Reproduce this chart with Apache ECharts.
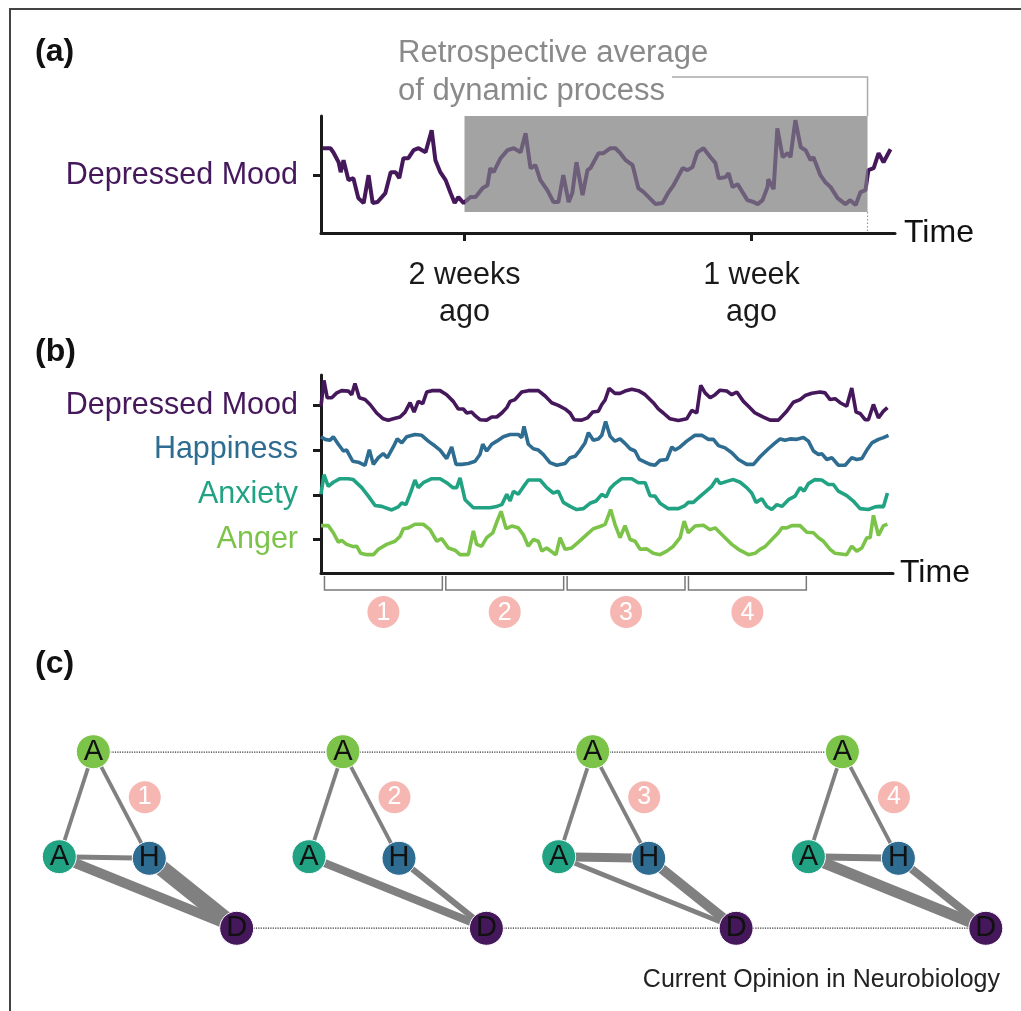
<!DOCTYPE html>
<html><head><meta charset="utf-8">
<script src="https://cdn.jsdelivr.net/npm/echarts@6/dist/echarts.min.js"></script>
<style>html,body{margin:0;padding:0;background:#fff}#c{width:1021px;height:1011px}</style>
</head><body><div id="c"></div>
<script>
// ---------- Panel (a): depressed mood over time (days relative to now) ----------
const moodA = [[-17.46,7.39],[-17.27,7.39],[-17.20,7.04],[-17.07,6.17],[-17.02,5.30],[-16.95,6.35],[-16.83,4.61],[-16.71,4.78],[-16.59,3.04],[-16.46,2.61],[-16.34,5.04],[-16.24,2.61],[-16.12,2.70],[-15.93,3.48],[-15.80,5.30],[-15.68,5.30],[-15.59,4.78],[-15.49,6.52],[-15.37,6.52],[-15.24,7.22],[-15.12,7.39],[-14.95,7.04],[-14.80,8.96],[-14.71,6.35],[-14.59,5.30],[-14.46,4.61],[-14.34,3.48],[-14.24,2.61],[-14.15,3.13],[-14.02,2.61],[-13.85,3.13],[-13.73,3.13],[-13.56,3.91],[-13.44,4.17],[-13.37,5.65],[-13.29,5.30],[-13.12,6.52],[-12.95,7.22],[-12.80,7.39],[-12.63,7.04],[-12.51,8.70],[-12.39,5.65],[-12.27,5.91],[-12.15,4.61],[-11.98,3.74],[-11.83,2.70],[-11.71,2.70],[-11.59,5.04],[-11.46,2.70],[-11.37,3.48],[-11.27,6.17],[-11.12,3.30],[-11.00,5.48],[-10.93,5.65],[-10.73,6.96],[-10.61,6.96],[-10.44,7.39],[-10.32,7.39],[-10.20,6.96],[-10.07,6.35],[-9.90,5.91],[-9.76,3.91],[-9.63,3.57],[-9.34,2.52],[-9.17,2.61],[-9.02,3.57],[-8.90,4.17],[-8.68,5.65],[-8.56,5.48],[-8.44,5.74],[-8.32,7.04],[-8.17,7.39],[-8.00,6.61],[-7.88,6.09],[-7.80,4.78],[-7.63,4.87],[-7.56,5.22],[-7.46,4.00],[-7.34,4.26],[-7.10,2.87],[-6.95,2.70],[-6.85,2.52],[-6.73,2.87],[-6.61,4.00],[-6.59,4.70],[-6.46,3.83],[-6.37,9.13],[-6.24,6.61],[-6.12,6.96],[-6.05,6.61],[-5.93,9.83],[-5.80,7.48],[-5.68,7.22],[-5.56,6.35],[-5.49,6.61],[-5.32,5.04],[-5.20,4.43],[-5.07,4.00],[-4.90,3.04],[-4.71,2.52],[-4.59,2.87],[-4.46,2.43],[-4.34,3.57],[-4.22,3.74],[-4.15,5.48],[-4.02,5.65],[-3.90,6.96],[-3.78,6.17],[-3.61,7.30]];
const retroWindow = [-14, -4.17];     // days
const retroLevels = [1.83, 10.2];     // shaded band extent
const timeTicksA = [-14, -7];
const timeLabelsA = ['2 weeks\nago', '1 week\nago'];
const moodTickA = 5;

// ---------- Panel (b): four symptoms over time (days) ----------
const seriesNamesB = ['Depressed Mood', 'Happiness', 'Anxiety', 'Anger'];
const levelTicksB = [4, 3, 2, 1];
const depressedB = [[0,3.98],[0.17,4.56],[0.36,4.17],[0.62,4.17],[0.91,4.28],[1.19,4.33],[1.58,4.32],[1.77,4.24],[1.96,4.49],[2.21,4.17],[2.54,4.13],[2.83,4.02],[3.21,3.83],[3.59,3.70],[3.88,3.67],[4.17,3.70],[4.56,3.74],[4.85,3.85],[5.14,4.06],[5.37,3.85],[5.61,4.09],[5.87,4.04],[6.10,4.30],[6.39,4.33],[6.87,4.33],[7.25,4.24],[7.63,4.09],[7.92,3.92],[8.21,3.92],[8.41,3.83],[8.70,3.85],[8.89,3.77],[9.17,3.68],[9.56,3.67],[9.85,3.74],[10.14,3.74],[10.43,3.83],[10.72,3.95],[10.91,4.09],[11.19,4.13],[11.58,4.30],[11.96,4.33],[12.54,4.33],[12.93,4.21],[13.31,4.06],[13.69,4.00],[14.08,3.92],[14.37,3.83],[14.60,3.68],[15.04,3.67],[15.37,3.72],[15.68,3.85],[16.00,3.87],[16.20,4.02],[16.39,4.12],[16.62,4.38],[16.96,4.27],[17.25,4.27],[17.54,4.32],[17.93,4.36],[18.31,4.33],[18.70,4.24],[19.17,4.06],[19.46,3.92],[19.75,3.83],[20.14,3.70],[20.62,3.66],[21.10,3.70],[21.39,3.89],[21.68,3.83],[21.91,4.45],[22.16,4.28],[22.45,4.17],[22.74,4.24],[23.02,4.34],[23.41,4.32],[23.70,4.24],[23.99,4.30],[24.37,4.09],[24.66,3.98],[25.04,3.83],[25.52,3.74],[25.91,3.67],[26.39,3.67],[26.87,3.87],[27.25,4.07],[27.64,4.13],[27.93,4.22],[28.32,4.27],[28.79,4.30],[29.08,4.28],[29.37,4.13],[29.66,4.15],[29.95,4.06],[30.33,3.98],[30.62,4.39],[30.87,3.85],[31.10,3.82],[31.39,3.68],[31.58,3.68],[31.87,4.02],[32.16,3.72],[32.45,3.87],[32.68,3.95]];
const happinessB = [[0,3.30],[0.23,3.24],[0.52,3.22],[0.71,3.30],[1.00,3.13],[1.29,2.98],[1.48,3.00],[1.83,2.75],[2.15,2.73],[2.54,2.66],[2.79,3.01],[3.02,2.68],[3.31,2.83],[3.59,2.92],[3.83,2.83],[4.17,3.07],[4.40,3.25],[4.66,3.16],[4.95,3.30],[5.42,3.35],[5.81,3.33],[6.19,3.20],[6.58,3.09],[6.87,3.00],[7.25,2.81],[7.54,3.07],[7.79,2.68],[8.12,2.68],[8.50,2.70],[8.89,2.75],[9.17,2.90],[9.33,3.13],[9.56,2.98],[9.85,3.13],[10.14,3.20],[10.52,3.30],[10.91,3.35],[11.38,3.35],[11.58,3.28],[11.71,3.53],[11.96,3.13],[12.25,3.03],[12.54,3.00],[12.83,2.90],[13.21,2.72],[13.60,2.66],[14.08,2.70],[14.37,2.83],[14.66,2.86],[14.95,3.00],[15.23,3.16],[15.43,3.39],[15.71,3.22],[16.00,3.25],[16.20,3.33],[16.42,3.64],[16.68,3.31],[16.96,3.20],[17.25,3.25],[17.54,3.15],[17.83,3.03],[18.12,2.98],[18.37,2.79],[18.70,2.73],[18.98,2.68],[19.27,2.66],[19.56,2.77],[19.95,2.79],[20.24,3.07],[20.43,3.00],[20.72,3.07],[21.10,3.20],[21.58,3.33],[21.97,3.33],[22.35,3.24],[22.64,3.24],[22.93,3.10],[23.31,3.05],[23.70,2.94],[24.08,2.79],[24.56,2.68],[24.95,2.68],[25.33,2.85],[25.81,3.03],[26.20,3.16],[26.49,3.25],[26.77,3.22],[27.06,3.25],[27.45,3.24],[27.83,3.28],[28.12,3.20],[28.41,2.98],[28.70,2.90],[28.89,2.92],[29.18,2.79],[29.47,2.83],[29.85,2.66],[30.24,2.66],[30.62,2.83],[30.91,2.79],[31.20,2.81],[31.49,3.00],[31.78,3.16],[32.16,3.24],[32.45,3.28],[32.74,3.33]];
const anxietyB = [[0,2.01],[0.17,2.45],[0.42,2.19],[0.71,2.28],[1.10,2.36],[1.58,2.36],[1.86,2.34],[2.35,2.16],[2.73,1.97],[3.12,1.76],[3.50,1.74],[4.08,1.66],[4.46,1.73],[4.66,1.82],[4.90,1.78],[5.18,2.06],[5.42,2.33],[5.61,2.16],[5.90,2.27],[6.39,2.36],[6.87,2.36],[7.25,2.27],[7.60,2.16],[7.83,2.16],[8.02,2.38],[8.31,1.89],[8.79,1.71],[9.27,1.71],[9.75,1.71],[10.14,1.74],[10.43,1.78],[10.72,2.01],[10.91,1.86],[11.10,2.08],[11.38,2.01],[11.64,2.16],[11.96,2.33],[12.64,2.33],[13.02,2.16],[13.40,2.04],[13.69,2.08],[13.98,1.83],[14.37,1.74],[14.75,1.67],[15.14,1.69],[15.52,1.81],[15.87,1.86],[16.20,2.01],[16.45,1.95],[16.68,2.14],[16.96,2.25],[17.35,2.36],[17.93,2.36],[18.31,2.27],[18.70,2.27],[18.98,1.98],[19.27,1.97],[19.56,1.81],[20.04,1.69],[20.62,1.69],[21.00,1.76],[21.19,1.83],[21.48,1.83],[21.77,1.93],[22.16,2.06],[22.54,2.19],[22.83,2.36],[23.02,2.25],[23.41,2.30],[23.79,2.34],[24.18,2.28],[24.56,2.16],[24.85,2.04],[25.10,1.83],[25.43,1.91],[25.72,1.74],[26.01,1.67],[26.30,1.78],[26.59,1.74],[26.97,1.89],[27.35,1.97],[27.64,2.16],[27.87,2.08],[28.12,2.25],[28.50,2.34],[28.89,2.33],[29.27,2.23],[29.56,2.23],[29.85,2.08],[30.33,1.98],[30.71,1.86],[31.10,1.69],[31.58,1.67],[31.97,1.73],[32.26,1.74],[32.45,1.73],[32.68,2.04]];
const angerB = [[0,1.31],[0.42,1.31],[0.71,1.15],[1.00,0.94],[1.19,0.98],[1.48,0.89],[1.86,0.84],[2.06,0.85],[2.29,0.69],[2.64,0.66],[3.02,0.66],[3.31,0.78],[3.79,0.89],[4.27,0.96],[4.56,1.07],[4.75,1.24],[5.04,1.26],[5.42,1.34],[5.90,1.34],[6.29,1.22],[6.68,0.96],[6.96,1.02],[7.35,0.81],[7.73,0.76],[8.02,0.66],[8.50,0.66],[8.79,1.19],[8.98,0.89],[9.27,0.85],[9.56,1.04],[9.91,1.15],[10.14,1.39],[10.39,1.63],[10.68,1.24],[11.00,1.30],[11.38,1.26],[11.67,1.11],[11.96,0.85],[12.25,1.00],[12.54,0.96],[12.74,0.74],[13.02,0.81],[13.40,0.70],[13.56,0.66],[13.79,1.04],[14.08,0.78],[14.47,0.81],[14.85,0.94],[15.33,1.11],[15.71,1.24],[16.10,1.29],[16.39,1.34],[16.71,1.67],[16.96,1.34],[17.25,1.04],[17.54,1.31],[17.83,1.00],[18.12,0.96],[18.41,0.78],[18.79,0.79],[19.17,0.69],[19.56,0.66],[19.95,0.74],[20.33,0.85],[20.72,1.04],[20.95,1.41],[21.19,1.15],[21.58,1.30],[22.06,1.32],[22.45,1.22],[22.74,1.26],[23.02,1.15],[23.31,1.04],[23.70,0.89],[24.08,0.78],[24.66,0.66],[25.04,0.69],[25.33,0.78],[25.62,0.84],[26.01,1.00],[26.39,1.15],[26.59,1.26],[26.87,1.26],[27.16,1.31],[27.64,1.31],[28.03,1.16],[28.41,1.15],[28.70,1.04],[28.99,0.96],[29.37,0.78],[29.66,0.69],[30.33,0.66],[30.62,0.85],[30.91,0.74],[31.20,0.81],[31.49,1.04],[31.68,1.04],[31.87,1.54],[32.16,1.09],[32.45,1.31],[32.68,1.34]];
const windowStarts = [0.2, 7.2, 14.2, 21.2];
const windowEnds = [7.0, 14.0, 21.0, 28.0];
const windowLabels = ['1', '2', '3', '4'];

// ---------- Panel (c): network edge strengths per window ----------
const angerAnxiety       = [0.19, 0.19, 0.19, 0.19];
const angerHappiness     = [0.19, 0.19, 0.19, 0.19];
const anxietyHappiness   = [0.25, 0.00, 0.45, 0.35];
const anxietyDepressed   = [0.50, 0.40, 0.25, 0.55];
const happinessDepressed = [0.80, 0.30, 0.50, 0.40];
const nodeLetters = {ang: 'A', anx: 'A', hap: 'H', dep: 'D'};

// ---------- styles / layout ----------
const FONT = '"Liberation Sans", Arial, sans-serif';
const COL = {dep: '#45175b', hap: '#2e6c91', anx: '#21a383', ang: '#7cc34a'};
const seriesColorsB = [COL.dep, COL.hap, COL.anx, COL.ang];
const MUTED = '#6d5e79';
const AXIS = '#1a1a1a';
const yMinB = 0.25, yMaxB = 4.68;
// network node template (relative layout)
const tpl = {ang: [34, 0], anx: [0, 105], hap: [90, 106.6], dep: [177.4, 176.6], badge: [85.5, 45.6]};
const netSpacing = 249.7;

const nodes = [], links = [];
for (let i = 0; i < 4; i++) {
  const ox = i * netSpacing;
  ['ang', 'anx', 'hap', 'dep'].forEach(k => nodes.push({
    name: k + i, x: ox + tpl[k][0], y: tpl[k][1], symbolSize: 34,
    itemStyle: {color: COL[k], borderColor: '#fff', borderWidth: 1},
    label: {formatter: nodeLetters[k]}
  }));
  nodes.push({name: 'badge' + i, x: ox + tpl.badge[0], y: tpl.badge[1], symbolSize: 32,
    itemStyle: {color: '#f6b7b2', borderWidth: 0},
    label: {formatter: windowLabels[i], color: '#fff', fontSize: 25}});
}
for (let i = 0; i < 3; i++) {
  links.push({source: 'ang' + i, target: 'ang' + (i + 1), lineStyle: {type: 'dotted', width: 1.2, color: '#333'}});
  links.push({source: 'dep' + i, target: 'dep' + (i + 1), lineStyle: {type: 'dotted', width: 1.2, color: '#333'}});
}
const edgeSets = [['ang','anx',angerAnxiety],['ang','hap',angerHappiness],['anx','hap',anxietyHappiness],['anx','dep',anxietyDepressed],['hap','dep',happinessDepressed]];
for (let i = 0; i < 4; i++) {
  edgeSets.forEach(([a, b, w]) => {
    if (w[i] > 0) links.push({source: a + i, target: b + i, lineStyle: {width: w[i] * 20, color: '#808080'}});
  });
}

const chart = echarts.init(document.getElementById('c'), null, {renderer: 'canvas'});
const axisLine = {show: true, lineStyle: {color: AXIS, width: 3}};

chart.setOption({
  animation: false,
  backgroundColor: '#fff',
  textStyle: {fontFamily: FONT},
  grid: [
    {left: 321, top: 116, width: 574, height: 117, outerBoundsMode: 'none', containLabel: false},
    {left: 321, top: 375, width: 572, height: 198, outerBoundsMode: 'none', containLabel: false}
  ],
  xAxis: [
    {gridIndex: 0, type: 'value', min: -17.5, max: -3.5, splitLine: {show: false}, axisLine,
     name: 'Time', nameLocation: 'end', nameGap: 9, nameTextStyle: {fontSize: 32, color: '#111', fontFamily: FONT},
     axisTick: {show: true, customValues: timeTicksA, length: 8, lineStyle: {color: AXIS, width: 3}},
     axisLabel: {show: true, customValues: timeTicksA, margin: 24, fontSize: 30.5, lineHeight: 37, color: '#1a1a1a', fontFamily: FONT,
       formatter: v => timeLabelsA[timeTicksA.indexOf(Math.round(v))] || ''}},
    {gridIndex: 1, type: 'value', min: 0, max: 33, splitLine: {show: false}, axisLine,
     name: 'Time', nameLocation: 'end', nameGap: 7, nameTextStyle: {fontSize: 32, color: '#111', fontFamily: FONT},
     axisTick: {show: false}, axisLabel: {show: false}}
  ],
  yAxis: [
    {gridIndex: 0, type: 'value', min: 0, max: 10.2, splitLine: {show: false}, axisLine,
     axisTick: {show: true, customValues: [moodTickA], length: 8, lineStyle: {color: AXIS, width: 3}},
     axisLabel: {show: true, customValues: [moodTickA], margin: 23, fontSize: 30.5, color: COL.dep, fontFamily: FONT,
       formatter: () => 'Depressed Mood'}},
    {gridIndex: 1, type: 'value', min: yMinB, max: yMaxB, splitLine: {show: false}, axisLine,
     axisTick: {show: true, customValues: levelTicksB, length: 8, lineStyle: {color: AXIS, width: 3}},
     axisLabel: {show: true, customValues: levelTicksB, margin: 23, fontSize: 30.5, fontFamily: FONT,
       formatter: v => seriesNamesB[levelTicksB.indexOf(Math.round(+v))] || '',
       color: v => seriesColorsB[levelTicksB.indexOf(Math.round(+v))] || '#000'}}
  ],
  visualMap: [{
    type: 'piecewise', show: false, dimension: 0, seriesIndex: 0,
    pieces: [{lt: retroWindow[0], color: COL.dep}, {gte: retroWindow[0], lte: retroWindow[1], color: MUTED}, {gt: retroWindow[1], color: COL.dep}]
  }],
  series: [
    {type: 'line', xAxisIndex: 0, yAxisIndex: 0, data: moodA, showSymbol: false, symbol: 'none',
     lineStyle: {width: 4}, z: 3,
     markArea: {silent: true, itemStyle: {color: '#a3a3a3', opacity: 1},
       data: [[{coord: [retroWindow[0], retroLevels[0]]}, {coord: [retroWindow[1], retroLevels[1]]}]]}},
    ...[depressedB, happinessB, anxietyB, angerB].map((d, i) => ({
      type: 'line', xAxisIndex: 1, yAxisIndex: 1, name: seriesNamesB[i], data: d, showSymbol: false, symbol: 'none',
      lineStyle: {width: 3.6, color: seriesColorsB[i]}, itemStyle: {color: seriesColorsB[i]}
    })),
    {type: 'custom', xAxisIndex: 1, yAxisIndex: 1, clip: false, silent: true,
     data: windowStarts.map((s, i) => [s, windowEnds[i], yMinB]),
     encode: {x: [0, 1], y: 2},
     renderItem: (params, api) => {
       const p0 = api.coord([api.value(0), yMinB]);
       const p1 = api.coord([api.value(1), yMinB]);
       const yb = p0[1] + 17, yt = p0[1] + 3, cy = p0[1] + 39, cx = (p0[0] + p1[0]) / 2;
       return {type: 'group', children: [
         {type: 'polyline', shape: {points: [[p0[0], yt], [p0[0], yb], [p1[0], yb], [p1[0], yt]]}, style: {stroke: '#7a7a7a', lineWidth: 1.5, fill: null}},
         {type: 'circle', shape: {cx, cy, r: 16}, style: {fill: '#f6b7b2'}},
         {type: 'text', x: cx, y: cy + 1, style: {text: windowLabels[params.dataIndex], fill: '#fff', font: '25px ' + FONT, align: 'center', verticalAlign: 'middle'}}
       ]};
     }},
    {type: 'graph', layout: 'none', roam: false, silent: true,
     left: 59.3, top: 751.7, width: 3 * netSpacing + tpl.dep[0], height: tpl.dep[1],
     data: nodes, links: links, edgeSymbol: ['none', 'none'],
     label: {show: true, position: 'inside', fontSize: 29, color: '#111', fontFamily: FONT},
     lineStyle: {color: '#808080', opacity: 1, curveness: 0},
     emphasis: {disabled: true}}
  ],
  graphic: [
    {id: 'frame', type: 'polyline', shape: {points: [[10, 1011], [10, 9], [1021, 9]]}, style: {stroke: '#444', lineWidth: 2, fill: null}},
    {id: 'la', type: 'text', x: 35, y: 52, style: {text: '(a)', font: 'bold 32px ' + FONT, fill: '#111', verticalAlign: 'middle'}},
    {id: 'lb', type: 'text', x: 35, y: 352, style: {text: '(b)', font: 'bold 32px ' + FONT, fill: '#111', verticalAlign: 'middle'}},
    {id: 'lc', type: 'text', x: 35, y: 664, style: {text: '(c)', font: 'bold 32px ' + FONT, fill: '#111', verticalAlign: 'middle'}},
    {id: 'r1', type: 'text', x: 398, y: 53, style: {text: 'Retrospective average', font: '31px ' + FONT, fill: '#8a8a8a', verticalAlign: 'middle'}},
    {id: 'r2', type: 'text', x: 398, y: 91, style: {text: 'of dynamic process', font: '31px ' + FONT, fill: '#8a8a8a', verticalAlign: 'middle'}},
    {id: 'src', type: 'text', x: 1000, y: 980, style: {text: 'Current Opinion in Neurobiology', font: '25px ' + FONT, fill: '#222', align: 'right', verticalAlign: 'middle'}}
  ]
});

// annotation bracket tied to the retrospective window
const pTop = chart.convertToPixel({gridIndex: 0}, [retroWindow[1], retroLevels[1]]);
const pBot = chart.convertToPixel({gridIndex: 0}, [retroWindow[1], retroLevels[0]]);
const pAx = chart.convertToPixel({gridIndex: 0}, [retroWindow[1], 0]);
chart.setOption({graphic: [
  {id: 'br', type: 'polyline', shape: {points: [[672, 77], [pTop[0], 77], [pTop[0], pTop[1]]]}, style: {stroke: '#ababab', lineWidth: 1.5, fill: null}},
  {id: 'dv', type: 'line', shape: {x1: pBot[0], y1: pBot[1], x2: pAx[0], y2: pAx[1]}, style: {stroke: '#999', lineWidth: 1.2, lineDash: [1.5, 2]}}
]});
</script></body></html>
